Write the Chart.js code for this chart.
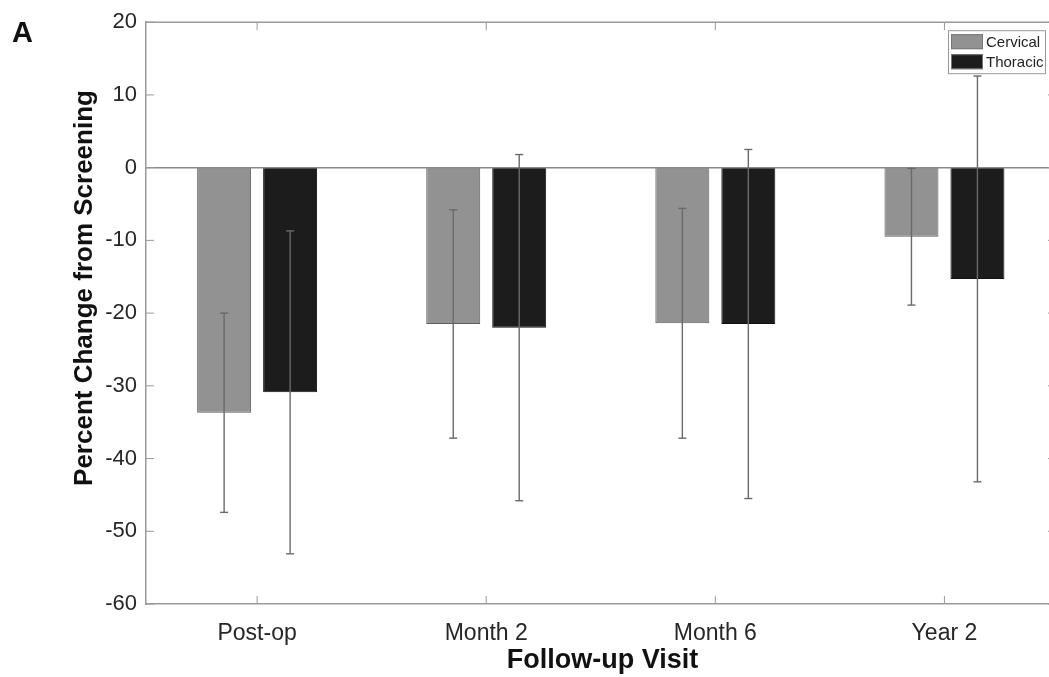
<!DOCTYPE html>
<html>
<head>
<meta charset="utf-8">
<script src="https://cdn.jsdelivr.net/npm/chart.js@4.4.0/dist/chart.umd.min.js"></script>
<style>
  html, body { margin: 0; padding: 0; background: #fff; overflow: hidden; }
  #wrap { position: relative; width: 1049px; height: 677px; overflow: hidden; }
</style>
</head>
<body>
<div id="wrap">
  <canvas id="changeChart" width="1060" height="677"></canvas>
</div>
<script>
// data
const categories = ['Post-op', 'Month 2', 'Month 6', 'Year 2'];
const cervicalMean = [-33.7, -21.5, -21.4, -9.5];
const cervicalErr = [13.7, 15.7, 15.8, 9.4];
const thoracicMean = [-30.9, -22.0, -21.5, -15.3];
const thoracicErr = [22.2, 23.8, 24.0, 27.9];
const yTicks = [-60, -50, -40, -30, -20, -10, 0, 10, 20];

const FONT = '"Liberation Sans", Arial, Helvetica, sans-serif';
const AXIS = '#9a9a9a';

function line(ctx, x1, y1, x2, y2) {
  ctx.beginPath();
  ctx.moveTo(x1, y1);
  ctx.lineTo(x2, y2);
  ctx.stroke();
}

// baseline, error bars, box, inward ticks, legend, titles
const decorations = {
  id: 'decorations',
  afterDatasetsDraw(chart) {
    const { ctx, chartArea: a, scales: { x, y } } = chart;
    ctx.save();

    ctx.strokeStyle = '#8a8a8a';
    ctx.lineWidth = 1.5;
    const y0 = y.getPixelForValue(0);
    line(ctx, a.left, y0, a.right, y0);

    [cervicalErr, thoracicErr].forEach((errs, d) => {
      const meta = chart.getDatasetMeta(d);
      meta.data.forEach((bar, i) => {
        const m = chart.data.datasets[d].data[i].y;
        const lo = y.getPixelForValue(m - errs[i]);
        const hi = y.getPixelForValue(m + errs[i]);
        ctx.strokeStyle = '#6a6a6a';
        ctx.lineWidth = 1.4;
        line(ctx, bar.x, lo, bar.x, hi);
        line(ctx, bar.x - 4, lo, bar.x + 4, lo);
        line(ctx, bar.x - 4, hi, bar.x + 4, hi);
      });
    });

    // top and right edges of the box
    ctx.strokeStyle = AXIS;
    ctx.lineWidth = 1.5;
    line(ctx, a.left, a.top, a.right, a.top);
    line(ctx, a.right, a.top, a.right, a.bottom);

    // inward ticks
    ctx.lineWidth = 1;
    yTicks.forEach(v => {
      const py = y.getPixelForValue(v);
      line(ctx, a.left, py, a.left + 8, py);
      line(ctx, a.right - 11, py, a.right, py);
    });
    categories.forEach((c, i) => {
      const px = x.getPixelForValue(i + 1);
      line(ctx, px, a.bottom, px, a.bottom - 8);
      line(ctx, px, a.top, px, a.top + 8);
    });

    // legend
    const lx = a.right - 111, ly = a.top + 8;
    ctx.fillStyle = '#fff';
    ctx.fillRect(lx, ly, 97, 43);
    ctx.strokeStyle = '#999';
    ctx.lineWidth = 1;
    ctx.strokeRect(lx + 0.5, ly + 0.5, 97, 43);
    ctx.font = '15px ' + FONT;
    ctx.textBaseline = 'middle';
    chart.data.datasets.forEach((ds, d) => {
      const cy = ly + 11.5 + d * 20;
      ctx.fillStyle = ds.backgroundColor;
      ctx.fillRect(lx + 3, cy - 7.5, 32, 15);
      ctx.strokeStyle = '#777';
      ctx.strokeRect(lx + 3.5, cy - 7, 31, 14);
      ctx.fillStyle = '#222';
      ctx.fillText(ds.label, lx + 38, cy + 1);
    });

    // y title
    ctx.save();
    ctx.translate(85, 288);
    ctx.rotate(-Math.PI / 2);
    ctx.fillStyle = '#111';
    ctx.font = 'bold 26px ' + FONT;
    ctx.textAlign = 'center';
    ctx.textBaseline = 'middle';
    ctx.fillText('Percent Change from Screening', 0, 0);
    ctx.restore();

    // panel letter
    ctx.fillStyle = '#111';
    ctx.font = 'bold 29px ' + FONT;
    ctx.textBaseline = 'alphabetic';
    ctx.fillText('A', 12, 42);

    ctx.restore();
  }
};

const ctx = document.getElementById('changeChart').getContext('2d');
const changeChart = new Chart(ctx, {
  type: 'bar',
  data: {
    datasets: [{
      label: 'Cervical',
      data: categories.map((c, i) => ({ x: i + 1, y: cervicalMean[i] })),
      backgroundColor: '#929292',
      borderColor: '#5e5e5e',
      borderWidth: 1,
      categoryPercentage: 0.576,
      barPercentage: 0.818,
    }, {
      label: 'Thoracic',
      data: categories.map((c, i) => ({ x: i + 1, y: thoracicMean[i] })),
      backgroundColor: '#1c1c1c',
      borderColor: '#111111',
      borderWidth: 1,
      categoryPercentage: 0.576,
      barPercentage: 0.818,
    }]
  },
  options: {
    responsive: false,
    animation: false,
    layout: { padding: { top: 19, right: 1, left: 0, bottom: 0 } },
    plugins: {
      legend: { display: false },
      tooltip: { enabled: false }
    },
    scales: {
      x: {
        type: 'linear',
        min: 0.515,
        max: 4.5,
        offset: false,
        afterBuildTicks: scale => {
          scale.ticks = categories.map((c, i) => ({ value: i + 1 }));
        },
        afterFit: scale => { scale.height = 73; },
        ticks: {
          autoSkip: false,
          maxRotation: 0,
          padding: 16,
          color: '#262626',
          font: { family: FONT, size: 23 },
          callback: v => categories[v - 1] || ''
        },
        grid: { display: false, drawTicks: false },
        border: { display: true, color: AXIS, width: 1.5 },
        title: {
          display: true,
          text: 'Follow-up Visit',
          color: '#111',
          font: { family: FONT, size: 27, weight: 'bold' },
          padding: { top: 0, bottom: 0 }
        }
      },
      y: {
        min: -60,
        max: 20,
        afterBuildTicks: scale => {
          scale.ticks = yTicks.map(v => ({ value: v }));
        },
        afterFit: scale => { scale.width = 146; },
        ticks: {
          padding: 9,
          color: '#262626',
          font: { family: FONT, size: 22 }
        },
        grid: { display: false, drawTicks: false },
        border: { display: true, color: AXIS, width: 1.5 }
      }
    }
  },
  plugins: [decorations]
});
</script>
</body>
</html>
